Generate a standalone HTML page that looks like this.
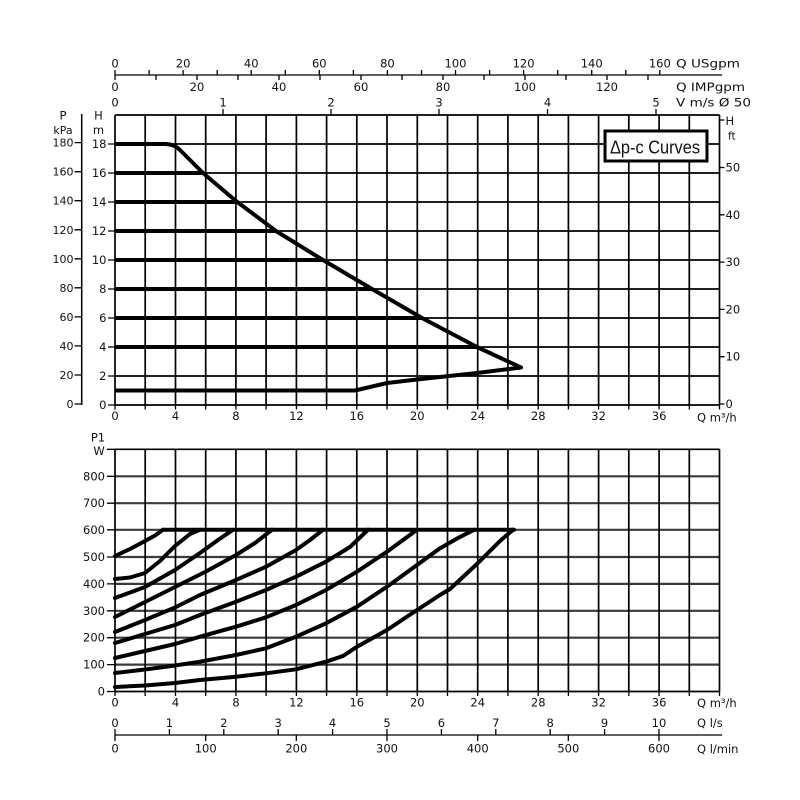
<!DOCTYPE html>
<html><head><meta charset="utf-8"><style>
html,body{margin:0;padding:0;background:#fff;}
svg{display:block;}
text{font-family:"DejaVu Sans","Liberation Sans",sans-serif;fill:#111;}
.w{font-size:11.5px;}
.s{font-size:11px;}
</style></head><body>
<svg width="800" height="800" viewBox="0 0 800 800" xmlns="http://www.w3.org/2000/svg">
<rect width="800" height="800" fill="#fff"/>

<!-- ===== TOP AXES ===== -->
<g stroke="#000" stroke-width="1.3" fill="none">
<path d="M115 75H722"/>
<path d="M115 75V70M149.1 75V70M183.1 75V70M217.2 75V70M251.2 75V70M285.3 75V70M319.3 75V70M353.4 75V70M387.4 75V70M421.5 75V70M455.5 75V70M489.6 75V70M523.6 75V70M557.7 75V70M591.7 75V70M625.8 75V70M659.8 75V70"/>
<path d="M115 75V80M156 75V80M197 75V80M238 75V80M279 75V80M320 75V80M361 75V80M402 75V80M443 75V80M484 75V80M525 75V80M566 75V80M607 75V80M648 75V80"/>
<path d="M223 115V109M331 115V109M439 115V109M547.5 115V109M656 115V109"/>
</g>
<g class="w" text-anchor="middle">
<text x="115" y="67.5">0</text><text x="183.1" y="67.5">20</text><text x="251.2" y="67.5">40</text><text x="319.3" y="67.5">60</text><text x="387.4" y="67.5">80</text><text x="455.5" y="67.5">100</text><text x="523.6" y="67.5">120</text><text x="591.7" y="67.5">140</text><text x="659.8" y="67.5">160</text>
<text x="115" y="91">0</text><text x="197" y="91">20</text><text x="279" y="91">40</text><text x="361" y="91">60</text><text x="443" y="91">80</text><text x="525" y="91">100</text><text x="607" y="91">120</text>
<text x="115" y="106.5">0</text><text x="223" y="106.5">1</text><text x="331" y="106.5">2</text><text x="439" y="106.5">3</text><text x="547.5" y="106.5">4</text><text x="656" y="106.5">5</text>
</g>
<g class="w">
<text x="676" y="67.5" textLength="64" lengthAdjust="spacingAndGlyphs">Q USgpm</text>
<text x="676" y="91" textLength="69" lengthAdjust="spacingAndGlyphs">Q IMPgpm</text>
<text x="676" y="106.5" textLength="75" lengthAdjust="spacingAndGlyphs">V m/s Ø 50</text>
</g>

<!-- ===== UPPER CHART GRID ===== -->
<g stroke="#000" stroke-width="1.7" fill="none">
<path d="M115 115V405M145.2 115V405M175.5 115V405M205.7 115V405M235.9 115V405M266.1 115V405M296.4 115V405M326.6 115V405M356.8 115V405M387 115V405M417.3 115V405M447.5 115V405M477.7 115V405M507.9 115V405M538.2 115V405M568.4 115V405M598.6 115V405M628.8 115V405M659.1 115V405M689.3 115V405M719.5 115V405"/>
<path d="M115 115H719.5M115 144H719.5M115 173H719.5M115 202H719.5M115 231H719.5M115 260H719.5M115 289H719.5M115 318H719.5M115 347H719.5M115 376H719.5M115 405H719.5"/>
</g>
<g stroke="#000" stroke-width="1.3">
<path d="M115 405V409.5M145.2 405V409.5M175.5 405V409.5M205.7 405V409.5M235.9 405V409.5M266.1 405V409.5M296.4 405V409.5M326.6 405V409.5M356.8 405V409.5M387 405V409.5M417.3 405V409.5M447.5 405V409.5M477.7 405V409.5M507.9 405V409.5M538.2 405V409.5M568.4 405V409.5M598.6 405V409.5M628.8 405V409.5M659.1 405V409.5M689.3 405V409.5M719.5 405V409.5"/>
<path d="M108 405H115M108 376H115M108 347H115M108 318H115M108 289H115M108 260H115M108 231H115M108 202H115M108 173H115M108 144H115"/>
<path d="M81.7 114V405" stroke-width="1.5"/>
<path d="M74.5 404H81.7M74.5 375H81.7M74.5 345.9H81.7M74.5 316.9H81.7M74.5 287.8H81.7M74.5 258.8H81.7M74.5 229.8H81.7M74.5 200.7H81.7M74.5 171.7H81.7M74.5 142.6H81.7"/>
<path d="M719.5 404H724.5M719.5 356.7H724.5M719.5 309.4H724.5M719.5 262.1H724.5M719.5 214.8H724.5M719.5 167.5H724.5M719.5 120H724.5"/>
</g>
<g class="w" text-anchor="middle">
<text x="115" y="420">0</text><text x="175.5" y="420">4</text><text x="235.9" y="420">8</text><text x="296.4" y="420">12</text><text x="356.8" y="420">16</text><text x="417.3" y="420">20</text><text x="477.7" y="420">24</text><text x="538.2" y="420">28</text><text x="598.6" y="420">32</text><text x="659.1" y="420">36</text>
</g>
<text class="w" x="697" y="421.5">Q m³/h</text>
<!-- P labels -->
<g text-anchor="middle">
<text x="63" y="119.5" style="font-size:11.5px">P</text>
<text x="63" y="134" style="font-size:11px">kPa</text>
</g>
<g class="s" text-anchor="end">
<text x="73.5" y="408">0</text><text x="73.5" y="379">20</text><text x="73.5" y="349.9">40</text><text x="73.5" y="320.9">60</text><text x="73.5" y="291.8">80</text><text x="73.5" y="262.8">100</text><text x="73.5" y="233.8">120</text><text x="73.5" y="204.7">140</text><text x="73.5" y="175.7">160</text><text x="73.5" y="146.6">180</text>
</g>
<!-- H m labels -->
<g text-anchor="middle" style="font-size:11.5px">
<text x="98.5" y="119.5">H</text>
<text x="98.5" y="134">m</text>
</g>
<g text-anchor="end" style="font-size:11.5px">
<text x="106.5" y="409">0</text><text x="106.5" y="380">2</text><text x="106.5" y="351">4</text><text x="106.5" y="322">6</text><text x="106.5" y="293">8</text><text x="106.5" y="264">10</text><text x="106.5" y="235">12</text><text x="106.5" y="206">14</text><text x="106.5" y="177">16</text><text x="106.5" y="148">18</text>
</g>
<g class="w">
<text x="725.5" y="125">H</text>
<text x="728" y="139.5" style="font-size:10.5px">ft</text>
<text x="725.5" y="408">0</text><text x="725.5" y="360.7">10</text><text x="725.5" y="313.4">20</text><text x="725.5" y="266.1">30</text><text x="725.5" y="218.8">40</text><text x="725.5" y="171.5">50</text>
</g>

<g stroke="#000" stroke-width="4" fill="none" stroke-linejoin="round">
<path d="M115 173H204M115 202H237M115 231H277M115 260H324M115 289H373M115 318H423M115 347H478"/>
<path d="M115 144H165Q174 144 180 150L203 173L236 201L276 231L323 260L372 289L422 318L477 347L521 367.5L477 373L417 379.5L387 383L370 387L355 390.5H115"/>
</g>

<rect x="605" y="131" width="102" height="30" fill="#fff" stroke="#000" stroke-width="3"/>
<text x="610" y="153.5" style="font-family:'Liberation Sans',sans-serif;font-size:18.5px" textLength="90" lengthAdjust="spacingAndGlyphs">Δp-c Curves</text>

<!-- ===== LOWER CHART ===== -->
<g stroke="#3a3a3a" stroke-width="2.2" fill="none">
<path d="M115 664.6H719.5M115 637.7H719.5M115 610.8H719.5M115 583.9H719.5M115 557H719.5M115 529.8H719.5M115 503.2H719.5M115 476.3H719.5"/>
</g>
<g stroke="#000" stroke-width="1.7" fill="none">
<path d="M115 449.3H719.5M115 691.5H719.5"/>
<path d="M115 449.3V691.5M145.2 449.3V691.5M175.5 449.3V691.5M205.7 449.3V691.5M235.9 449.3V691.5M266.1 449.3V691.5M296.4 449.3V691.5M326.6 449.3V691.5M356.8 449.3V691.5M387 449.3V691.5M417.3 449.3V691.5M447.5 449.3V691.5M477.7 449.3V691.5M507.9 449.3V691.5M538.2 449.3V691.5M568.4 449.3V691.5M598.6 449.3V691.5M628.8 449.3V691.5M659.1 449.3V691.5M689.3 449.3V691.5M719.5 449.3V691.5"/>
</g>
<g stroke="#000" stroke-width="1.3">
<path d="M115 691.5V696M145.2 691.5V696M175.5 691.5V696M205.7 691.5V696M235.9 691.5V696M266.1 691.5V696M296.4 691.5V696M326.6 691.5V696M356.8 691.5V696M387 691.5V696M417.3 691.5V696M447.5 691.5V696M477.7 691.5V696M507.9 691.5V696M538.2 691.5V696M568.4 691.5V696M598.6 691.5V696M628.8 691.5V696M659.1 691.5V696M689.3 691.5V696M719.5 691.5V696"/>
<path d="M107 691.5H115M107 664.6H115M107 637.7H115M107 610.8H115M107 583.9H115M107 557H115M107 529.8H115M107 503.2H115M107 476.3H115M107 449.3H115"/>
<path d="M115 735H722"/>
<path d="M115 735V729M169.4 735V729M223.8 735V729M278.2 735V729M332.6 735V729M387 735V729M441.4 735V729M495.8 735V729M550.2 735V729M604.6 735V729M659 735V729"/>
<path d="M115 735V741M205.7 735V741M296.3 735V741M387 735V741M477.7 735V741M568.3 735V741M659 735V741"/>
</g>
<g class="w" text-anchor="middle">
<text x="98" y="441.7">P1</text>
<text x="99" y="455">W</text>
</g>
<g class="w" text-anchor="end">
<text x="105" y="695.5">0</text><text x="105" y="668.6">100</text><text x="105" y="641.7">200</text><text x="105" y="614.8">300</text><text x="105" y="587.9">400</text><text x="105" y="561">500</text><text x="105" y="533.8">600</text><text x="105" y="507.2">700</text><text x="105" y="480.3">800</text>
</g>
<g class="w" text-anchor="middle">
<text x="115" y="706.5">0</text><text x="175.5" y="706.5">4</text><text x="235.9" y="706.5">8</text><text x="296.4" y="706.5">12</text><text x="356.8" y="706.5">16</text><text x="417.3" y="706.5">20</text><text x="477.7" y="706.5">24</text><text x="538.2" y="706.5">28</text><text x="598.6" y="706.5">32</text><text x="659.1" y="706.5">36</text>
<text x="115" y="727">0</text><text x="169.4" y="727">1</text><text x="223.8" y="727">2</text><text x="278.2" y="727">3</text><text x="332.6" y="727">4</text><text x="387" y="727">5</text><text x="441.4" y="727">6</text><text x="495.8" y="727">7</text><text x="550.2" y="727">8</text><text x="604.6" y="727">9</text><text x="659" y="727">10</text>
<text x="115" y="752.5">0</text><text x="205.7" y="752.5">100</text><text x="296.3" y="752.5">200</text><text x="387" y="752.5">300</text><text x="477.7" y="752.5">400</text><text x="568.3" y="752.5">500</text><text x="659" y="752.5">600</text>
</g>
<g class="w">
<text x="697" y="707">Q m³/h</text>
<text x="697" y="727">Q l/s</text>
<text x="697" y="753">Q l/min</text>
</g>

<g stroke="#000" stroke-width="4" fill="none" stroke-linejoin="round" stroke-linecap="round">
<path d="M163 529.8H514"/>
<path d="M115 556L130 549L145 541L155 535.5L163 529.8"/>
<path d="M115 579L130 577.5L145 573L160 561L175 546L190 534L200 529.8"/>
<path d="M115 598L145 587L175 570L200 553L218 540L233 529.8"/>
<path d="M115 617L145 602L175 587L205 572L236 555L255 543L272 529.8"/>
<path d="M115 632L145 620L175 607.5L200 595L236 580L266 566.7L296 550L310 540L323 529.8"/>
<path d="M115 643L145 634L175 625L200 615L236 601.7L266 590L296 576.7L326 561.7L350 547L368 529.8"/>
<path d="M115 658L145 651L175 644L200 636.7L236 626.7L266 617.3L296 605L326 590L357 571.7L387 551.7L417 529.8"/>
<path d="M115 673L145 669.5L175 665.5L200 661.7L236 655L266 648.3L296 636.7L326 623.3L357 606.7L387 586.7L417 565L440 548.3L458 538L474 529.8"/>
<path d="M115 687L145 685.5L175 683L200 680L236 676.7L266 673.3L296 669.3L326 661.7L343 656L357 646.7L387 630L417 610L440 595L450 589L478 563L500 541L513 529.8"/>
</g>
</svg>
</body></html>
